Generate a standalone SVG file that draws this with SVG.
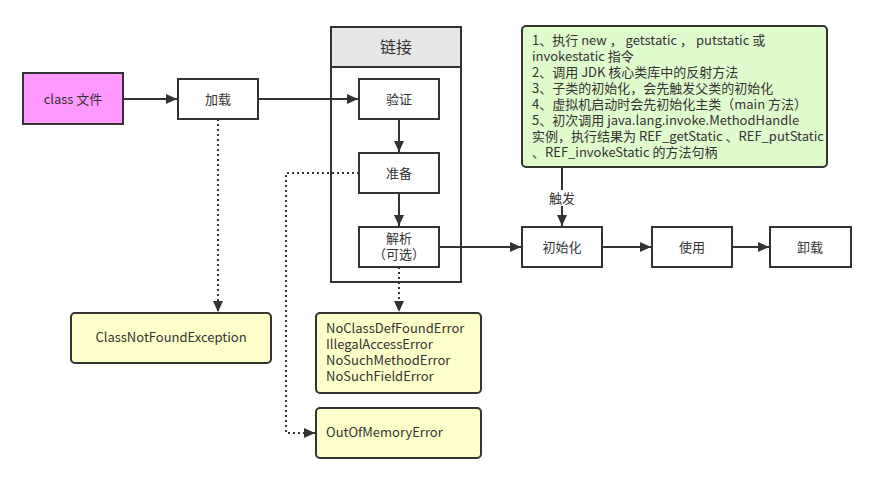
<svg xmlns="http://www.w3.org/2000/svg" width="877" height="477" viewBox="0 0 877 477">
<style>
  .box { fill: #ffffff; stroke: #333333; stroke-width: 2; }
  .note { fill: #ffffcc; stroke: #333333; stroke-width: 2; }
  .t { font-family: "Noto Sans CJK SC", "Liberation Sans", sans-serif; font-size: 13px; fill: #333333; }
  .c { text-anchor: middle; }
  .ln { fill: none; stroke: #333333; stroke-width: 2; }
  .dot { fill: none; stroke: #333333; stroke-width: 2; stroke-dasharray: 2 3; }
</style>
<defs>
  <marker id="arr" markerWidth="12" markerHeight="10" refX="11" refY="5" orient="auto" markerUnits="userSpaceOnUse">
    <path d="M0,0 L11,5 L0,10 Z" fill="#333333"/>
  </marker>
</defs>
<rect width="877" height="477" fill="#ffffff"/>

<g id="linking">
  <rect x="331" y="27" width="130" height="255" class="box"/>
  <rect x="331" y="27" width="130" height="40" fill="#e6e6e6" stroke="#333333" stroke-width="2"/>
  <text x="396" y="53" class="t c" style="font-size:16px">链接</text>
</g>

<g id="connectors">
  <line x1="123" y1="99" x2="177" y2="99" class="ln" marker-end="url(#arr)"/>
  <line x1="258" y1="99" x2="358" y2="99" class="ln" marker-end="url(#arr)"/>
  <line x1="399" y1="119" x2="399" y2="152" class="ln" marker-end="url(#arr)"/>
  <line x1="399" y1="193" x2="399" y2="226" class="ln" marker-end="url(#arr)"/>
  <line x1="439" y1="247" x2="521" y2="247" class="ln" marker-end="url(#arr)"/>
  <line x1="602" y1="247" x2="651" y2="247" class="ln" marker-end="url(#arr)"/>
  <line x1="732" y1="247" x2="769" y2="247" class="ln" marker-end="url(#arr)"/>
  <line x1="562" y1="167" x2="562" y2="226" class="ln" marker-end="url(#arr)"/>
  <rect x="548" y="190" width="28" height="16" fill="#ffffff"/>
  <text x="562" y="203" class="t c">触发</text>
  <line x1="218" y1="119" x2="218" y2="312" class="dot" marker-end="url(#arr)"/>
  <line x1="399" y1="267" x2="399" y2="312" class="dot" marker-end="url(#arr)"/>
  <polyline points="359,173 286,173 286,433 315,433" class="dot" marker-end="url(#arr)"/>
</g>

<g id="class-file">
  <rect x="23" y="73" width="100" height="51" fill="#ff99ff" stroke="#333333" stroke-width="2"/>
  <text x="73" y="104" class="t c">class 文件</text>
</g>
<g id="load">
  <rect x="178" y="79" width="80" height="40" class="box"/>
  <text x="218" y="104" class="t c">加载</text>
</g>
<g id="verify">
  <rect x="359" y="79" width="80" height="40" class="box"/>
  <text x="399" y="104" class="t c">验证</text>
</g>
<g id="prepare">
  <rect x="359" y="153" width="80" height="40" class="box"/>
  <text x="399" y="178" class="t c">准备</text>
</g>
<g id="resolve">
  <rect x="359" y="227" width="80" height="40" class="box"/>
  <text x="399" y="243" class="t c">解析</text>
  <text x="399" y="259" class="t c">（可选）</text>
</g>
<g id="init">
  <rect x="522" y="227" width="80" height="40" class="box"/>
  <text x="562" y="252" class="t c">初始化</text>
</g>
<g id="use">
  <rect x="652" y="227" width="80" height="40" class="box"/>
  <text x="692" y="252" class="t c">使用</text>
</g>
<g id="unload">
  <rect x="770" y="227" width="81" height="40" class="box"/>
  <text x="810" y="252" class="t c">卸载</text>
</g>
<g id="triggers">
  <rect x="522" y="26" width="305" height="141" rx="4" fill="#e0fbcc" stroke="#333333" stroke-width="2"/>
  <text class="t">
    <tspan x="532" y="45">1、执行 new ， getstatic ， putstatic 或</tspan>
    <tspan x="532" y="61">invokestatic 指令</tspan>
    <tspan x="532" y="77">2、调用 JDK 核心类库中的反射方法</tspan>
    <tspan x="532" y="93">3、子类的初始化，会先触发父类的初始化</tspan>
    <tspan x="532" y="109">4、虚拟机启动时会先初始化主类（main 方法）</tspan>
    <tspan x="532" y="125">5、初次调用 java.lang.invoke.MethodHandle</tspan>
    <tspan x="532" y="141">实例，执行结果为 REF_getStatic 、REF_putStatic</tspan>
    <tspan x="532" y="157">、REF_invokeStatic 的方法句柄</tspan>
  </text>
</g>
<g id="cnfe">
  <rect x="71" y="313" width="200" height="50" rx="4" class="note"/>
  <text x="171" y="342" class="t c">ClassNotFoundException</text>
</g>
<g id="errors">
  <rect x="316" y="313" width="165" height="80" rx="4" class="note"/>
  <text class="t">
    <tspan x="326" y="333">NoClassDefFoundError</tspan>
    <tspan x="326" y="349">IllegalAccessError</tspan>
    <tspan x="326" y="365">NoSuchMethodError</tspan>
    <tspan x="326" y="381">NoSuchFieldError</tspan>
  </text>
</g>
<g id="oom">
  <rect x="316" y="408" width="165" height="50" rx="4" class="note"/>
  <text x="326" y="437" class="t">OutOfMemoryError</text>
</g>
</svg>
